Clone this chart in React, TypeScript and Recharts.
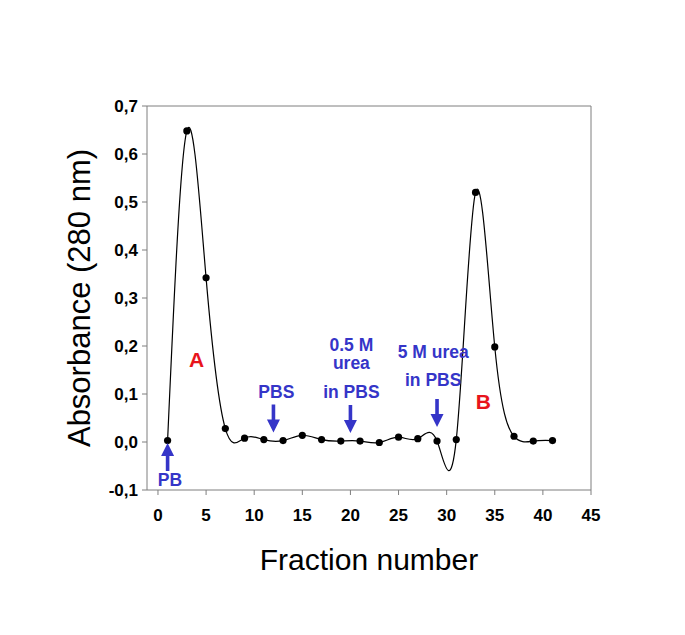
import React from 'react'
import { LineChart, Line, XAxis, YAxis, ReferenceLine, ReferenceDot } from 'recharts'

// fractions collected and their absorbance at 280 nm
const FRACTIONS = [1, 3, 5, 7, 9, 11, 13, 15, 17, 19, 21, 23, 25, 27, 29, 31, 33, 35, 37, 39, 41]
const ABSORBANCE = [0.003, 0.648, 0.342, 0.028, 0.008, 0.005, 0.003, 0.014, 0.005, 0.002, 0.002, -0.001, 0.01, 0.007, 0.002, 0.005, 0.52, 0.198, 0.012, 0.002, 0.003]

const X_TICKS = [0, 5, 10, 15, 20, 25, 30, 35, 40, 45]
const Y_TICKS = [-0.1, 0, 0.1, 0.2, 0.3, 0.4, 0.5, 0.6, 0.7]

// buffer changes (arrow tip in data coords)
const ARROWS = [
  { x: 1, y: -0.002, dir: 'up' },
  { x: 12, y: 0.02, dir: 'down' },
  { x: 20, y: 0.019, dir: 'down' },
  { x: 29, y: 0.031, dir: 'down' },
]

const BLUE_TEXT = [
  { x: 1.25, y: -0.079, text: 'PB' },
  { x: 12.3, y: 0.105, text: 'PBS' },
  { x: 20.1, y: 0.202, text: '0.5 M' },
  { x: 20.1, y: 0.164, text: 'urea' },
  { x: 20.1, y: 0.105, text: 'in PBS' },
  { x: 28.6, y: 0.188, text: '5 M urea' },
  { x: 28.6, y: 0.13, text: 'in PBS' },
]

const PEAKS = [
  { x: 4, y: 0.171, text: 'A' },
  { x: 33.8, y: 0.084, text: 'B' },
]

const data = FRACTIONS.map((f, i) => ({ fraction: f, abs: ABSORBANCE[i] }))

const BLUE = '#3535c8'
const RED = '#e8141c'
const AXIS = '#7f7f7f'
const FONT = 'Arial, "Liberation Sans", sans-serif'

const fmt = (v: number) => v.toFixed(1).replace('.', ',')

const arrowShape = (dir: string) => (props: any) => {
  const { cx, cy } = props
  const s = dir === 'down' ? -1 : 1
  const len = 28
  const head = 13
  const hw = 6.5
  const sw = 1.8
  const base = cy + s * head
  const end = cy + s * len
  const pts = [
    [cx, cy],
    [cx + hw, base],
    [cx + sw, base],
    [cx + sw, end],
    [cx - sw, end],
    [cx - sw, base],
    [cx - hw, base],
  ]
  return <polygon points={pts.map((p) => p.join(',')).join(' ')} fill={BLUE} />
}

const textShape = (text: string, color: string, size: number) => (props: any) => (
  <text
    x={props.cx}
    y={props.cy}
    textAnchor="middle"
    dominantBaseline="central"
    fill={color}
    fontFamily={FONT}
    fontWeight="bold"
    fontSize={size}
  >
    {text}
  </text>
)

export default function App() {
  return (
    <LineChart width={670} height={620} data={data} margin={{ top: 98, right: 87, bottom: 78, left: 79 }}>
      <XAxis
        dataKey="fraction"
        type="number"
        domain={[-1.14, 45]}
        allowDataOverflow
        ticks={X_TICKS}
        stroke={AXIS}
        tickSize={5}
        tickMargin={14}
        height={60}
        tick={{ fill: '#000', fontSize: 17, fontWeight: 'bold', fontFamily: FONT }}
        label={{ value: 'Fraction number', position: 'bottom', offset: -1, fill: '#000', fontSize: 30, fontFamily: FONT }}
      />
      <YAxis
        type="number"
        domain={[-0.1, 0.7]}
        allowDataOverflow
        ticks={Y_TICKS}
        tickFormatter={fmt}
        stroke={AXIS}
        tickSize={5}
        tickMargin={4}
        width={60}
        tick={{ fill: '#000', fontSize: 17, fontWeight: 'bold', fontFamily: FONT }}
        label={{ value: 'Absorbance (280 nm)', angle: -90, position: 'insideLeft', offset: -8, fill: '#000', fontSize: 31, fontFamily: FONT, style: { textAnchor: 'middle' } }}
      />
      <ReferenceLine y={0.7} stroke={AXIS} />
      <ReferenceLine x={45} stroke={AXIS} />
      <Line
        dataKey="abs"
        type="natural"
        stroke="#000"
        strokeWidth={1.2}
        dot={{ r: 3.6, fill: '#000', stroke: '#000', strokeWidth: 0 }}
        isAnimationActive={false}
      />
      {ARROWS.map((a, i) => (
        <ReferenceDot key={'a' + i} x={a.x} y={a.y} shape={arrowShape(a.dir)} />
      ))}
      {BLUE_TEXT.map((t, i) => (
        <ReferenceDot key={'t' + i} x={t.x} y={t.y} shape={textShape(t.text, BLUE, 17.5)} />
      ))}
      {PEAKS.map((t, i) => (
        <ReferenceDot key={'p' + i} x={t.x} y={t.y} shape={textShape(t.text, RED, 21)} />
      ))}
    </LineChart>
  )
}
